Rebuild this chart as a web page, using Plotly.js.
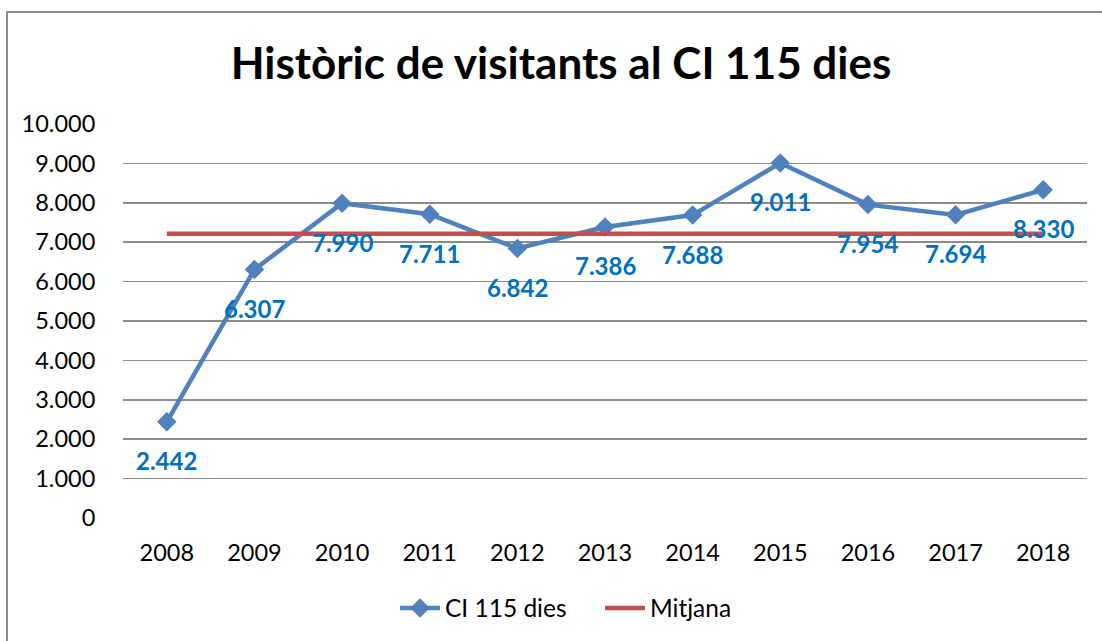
<!DOCTYPE html>
<html>
<head>
<meta charset="utf-8">
<script src="https://cdn.plot.ly/plotly-3.0.1.min.js"></script>
<style>
  html, body { margin: 0; padding: 0; background: #fff; }
  #wrap { position: relative; width: 1102px; height: 641px; overflow: hidden; }
  #chart { width: 1102px; height: 641px; }
  #frame { position: absolute; left: 6px; top: 11px; width: 1200px; height: 800px;
           border: 2px solid #8c8c8c; pointer-events: none; box-sizing: border-box; }
</style>
</head>
<body>
<div id="wrap">
  <div id="chart"></div>
  <div id="frame"></div>
</div>
<script>
const years = ['2008','2009','2010','2011','2012','2013','2014','2015','2016','2017','2018'];
const visitants = [2442, 6307, 7990, 7711, 6842, 7386, 7688, 9011, 7954, 7694, 8330];
const mitjana = [7214, 7214, 7214, 7214, 7214, 7214, 7214, 7214, 7214, 7214, 7214];
const labels = ['2.442','6.307','7.990','7.711','6.842','7.386','7.688','9.011','7.954','7.694','8.330'];

const FONT = 'Lato, "Open Sans", sans-serif';

const traces = [
  {
    x: years, y: visitants, name: 'CI 115 dies', type: 'scatter', mode: 'lines+markers',
    line: { color: '#4F81BD', width: 4.5 },
    marker: { symbol: 'diamond', size: 15, color: '#4F81BD' }
  },
  {
    x: years, y: mitjana, name: 'Mitjana', type: 'scatter', mode: 'lines',
    line: { color: '#C0504D', width: 4.5 }
  }
];

const annotations = years.map((yr, i) => ({
  x: i, y: visitants[i], text: '<b>' + labels[i] + '</b>', showarrow: false,
  xref: 'x', yref: 'y', yshift: -39, xanchor: 'center', yanchor: 'middle',
  font: { family: FONT, size: 24, color: '#0070C0' }
}));

const layout = {
  width: 1102, height: 641,
  margin: { l: 123, r: 15, t: 124, b: 122 },
  paper_bgcolor: '#ffffff', plot_bgcolor: '#ffffff',
  separators: ',.',
  font: { family: FONT, size: 23, color: '#000' },
  title: {
    text: '<b>Històric de visitants al CI 115 dies</b>',
    font: { family: FONT, size: 44, color: '#000' },
    x: 561/1102, xanchor: 'center', y: 1 - 64/641, yanchor: 'middle', xref: 'container', yref: 'container'
  },
  xaxis: {
    type: 'category', range: [-0.5, 10.5], showgrid: false, zeroline: false,
    showline: false, ticks: 'outside', ticklen: 14, tickcolor: 'rgba(0,0,0,0)',
    tickfont: { family: FONT, size: 23.5, color: '#000' }, fixedrange: true
  },
  yaxis: {
    range: [0, 10000], dtick: 1000, tick0: 0, tickformat: ',d',
    showgrid: true, gridcolor: '#8c8c8c', gridwidth: 1.6, zeroline: false,
    showline: false, ticks: 'outside', ticklen: 22, tickcolor: 'rgba(0,0,0,0)',
    tickfont: { family: FONT, size: 23.5, color: '#000' }, fixedrange: true
  },
  legend: {
    orientation: 'h', x: (600-123)/964, xanchor: 'center', y: -(608-519)/395, yanchor: 'middle',
    font: { family: FONT, size: 24.5, color: '#000' }, itemwidth: 40, tracegroupgap: 0,
    entrywidth: 150, entrywidthmode: 'pixels'
  },
  showlegend: true,
  annotations: annotations
};

Plotly.newPlot('chart', traces, layout, { displayModeBar: false, staticPlot: true });
</script>
</body>
</html>
